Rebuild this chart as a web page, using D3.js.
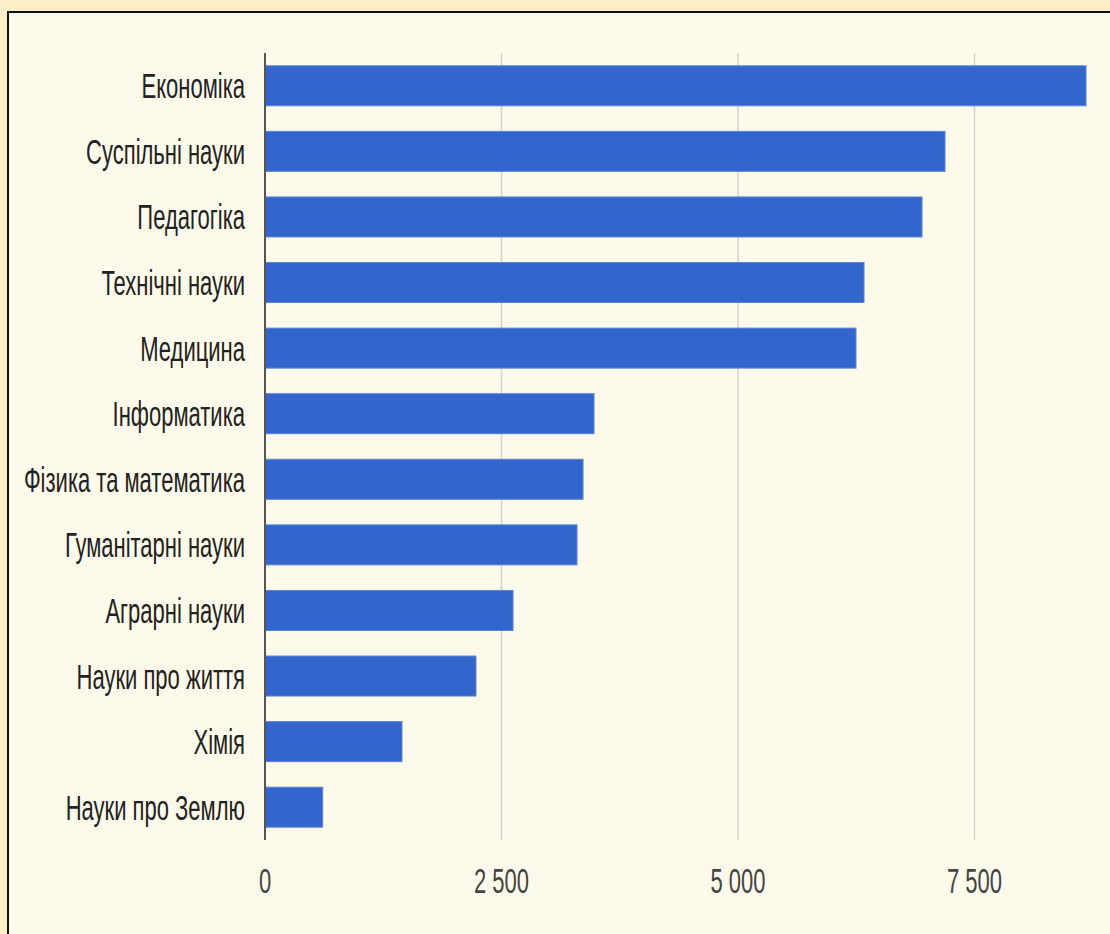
<!DOCTYPE html>
<html><head><meta charset="utf-8">
<script src="https://cdn.jsdelivr.net/npm/d3@7/dist/d3.min.js"></script>
<style>body{margin:0;background:#fdeec8;}svg{display:block;}</style>
</head><body>
<svg id="c" width="1110" height="934"></svg>
<script>
const categories = ["Економіка","Суспільні науки","Педагогіка","Технічні науки","Медицина","Інформатика","Фізика та математика","Гуманітарні науки","Аграрні науки","Науки про життя","Хімія","Науки про Землю"];
const values = [8679,7188,6945,6332,6247,3478,3362,3298,2622,2230,1448,610];
const tickValues = [0,2500,5000,7500];
const tickLabels = ["0","2 500","5 000","7 500"];

const svg = d3.select("#c");
svg.append("rect").attr("x",0).attr("y",0).attr("width",1110).attr("height",934).attr("fill","#fdeec8");
svg.append("rect").attr("x",8).attr("y",12).attr("width",1110).attr("height",940).attr("fill","#fefaeb").attr("stroke","#111").attr("stroke-width",2);

const x = d3.scaleLinear().domain([0,7500]).range([265,974.5]);
const y = d3.scaleBand().domain(categories).range([53,840]).paddingInner(0.39).paddingOuter(0.195);
const SY = 1.6;

// gridlines
svg.append("g").selectAll("line").data(tickValues.slice(1)).join("line")
  .attr("x1",d=>x(d)).attr("x2",d=>x(d)).attr("y1",53).attr("y2",840)
  .attr("stroke","#d6d4cc").attr("stroke-width",1.5);

// bars
svg.append("g").selectAll("rect").data(values).join("rect")
  .attr("x",x(0)).attr("y",(d,i)=>y(categories[i]))
  .attr("width",d=>x(d)-x(0)).attr("height",y.bandwidth())
  .attr("fill","#3366cc").attr("stroke","#5b84d6").attr("stroke-width",1);

// axis line
svg.append("line").attr("x1",x(0)).attr("x2",x(0)).attr("y1",53).attr("y2",840)
  .attr("stroke","#555").attr("stroke-width",2);

// category labels
svg.append("g").selectAll("text").data(categories).join("text")
  .attr("text-anchor","end")
  .attr("transform",d=>`translate(245,${y(d)+y.bandwidth()/2+12.5}) scale(1,${SY})`)
  .attr("font-family","'Liberation Sans', Arial, sans-serif").attr("font-size",22)
  .attr("fill","#222").text(d=>d);

// tick labels
svg.append("g").selectAll("text").data(tickValues).join("text")
  .attr("text-anchor","middle")
  .attr("transform",d=>`translate(${x(d)},893) scale(1,${SY})`)
  .attr("font-family","'Liberation Sans', Arial, sans-serif").attr("font-size",22)
  .attr("fill","#444").text((d,i)=>tickLabels[i]);
</script>
</body></html>
